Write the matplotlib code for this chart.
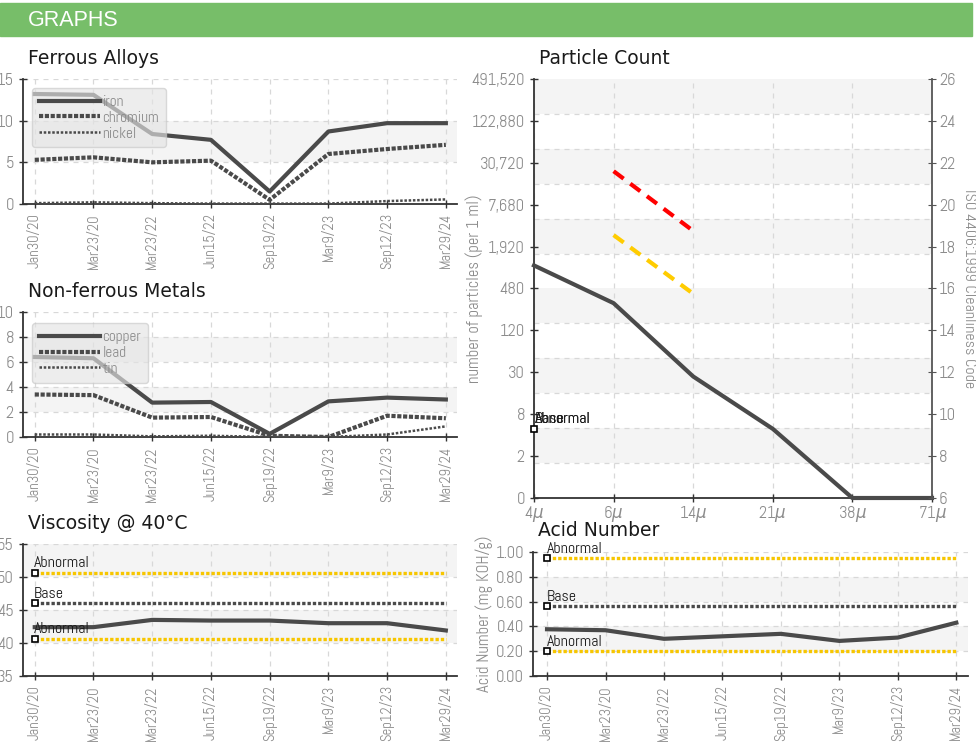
import numpy as np
import matplotlib
matplotlib.use('Agg')
import matplotlib.pyplot as plt
from matplotlib.patches import Rectangle

W, H = 976, 744
NARROW = ['Abel', 'Roboto Condensed', 'DejaVu Sans']
GREY = '#8c8c8c'
DARK = '#4a4a4a'
YELLOW = '#f7c600'

# sample dates shared by the trend charts
dates = ['Jan30/20', 'Mar23/20', 'Mar23/22', 'Jun15/22', 'Sep19/22',
         'Mar9/23', 'Sep12/23', 'Mar29/24']

# Ferrous alloys (ppm)
iron = [13.2, 13.1, 8.4, 7.7, 1.5, 8.7, 9.7, 9.7]
chromium = [5.3, 5.6, 5.0, 5.2, 0.5, 6.0, 6.6, 7.1]
nickel = [0.1, 0.2, 0.1, 0.05, 0.05, 0.05, 0.35, 0.55]

# Non-ferrous metals (ppm)
copper = [6.4, 6.3, 2.75, 2.8, 0.25, 2.85, 3.15, 3.0]
lead = [3.4, 3.35, 1.55, 1.6, 0.1, 0.0, 1.7, 1.5]
tin = [0.2, 0.2, 0.05, 0.1, 0.0, 0.0, 0.2, 0.85]

# Viscosity @ 40C
viscosity = [42.4, 42.4, 43.5, 43.4, 43.4, 43.0, 43.0, 41.9]
visc_limits = [('Abnormal', 50.6, YELLOW), ('Base', 46.0, DARK),
               ('Abnormal', 40.6, YELLOW)]

# Acid number (mg KOH/g)
acid = [0.377, 0.369, 0.30, 0.32, 0.34, 0.283, 0.31, 0.43]
acid_limits = [('Abnormal', 0.95, YELLOW), ('Base', 0.567, DARK),
               ('Abnormal', 0.20, YELLOW)]

# Particle count, plotted on the ISO 4406 code scale
sizes = ['4$\\mu$', '6$\\mu$', '14$\\mu$', '21$\\mu$', '38$\\mu$', '71$\\mu$']
pc_code = [17.1, 15.3, 11.8, 9.3, 6.0, 6.0]
pc_red = [21.6, 18.75]
pc_yellow = [18.55, 15.75]
pc_left_labels = ['0', '2', '8', '30', '120', '480', '1,920', '7,680',
                  '30,720', '122,880', '491,520']
pc_right_ticks = list(range(6, 27, 2))

fig = plt.figure(figsize=(W / 100, H / 100), dpi=100)


def px_axes(l, t, r, b):
    return fig.add_axes([l / W, 1 - b / H, (r - l) / W, (b - t) / H])


def style_axes(ax):
    for s in ['top', 'right']:
        ax.spines[s].set_visible(False)
    for s in ['left', 'bottom']:
        ax.spines[s].set_color('#333333')
        ax.spines[s].set_linewidth(1.3)
    ax.tick_params(direction='inout', length=6, width=1, color='#333333',
                   labelcolor=GREY, labelsize=12)
    ax.tick_params(axis='x', labelsize=10.5)
    for lab in ax.get_xticklabels() + ax.get_yticklabels():
        lab.set_family(NARROW)
    ax.grid(True, ls=(0, (4, 4)), color='#d8d8d8', lw=0.9)
    ax.set_axisbelow(True)


def bands(ax, ticks):
    for i in range(1, len(ticks) - 1, 2):
        ax.axhspan(ticks[i], ticks[i + 1], color='#f4f4f4', zorder=0, lw=0)


def trend_axes(l, t, r, b, title, yticks, lpad, rpad, title_y):
    ax = px_axes(l, t, r, b)
    x = np.arange(len(dates))
    ax.set_xlim(-lpad, len(dates) - 1 + rpad)
    ax.set_ylim(yticks[0], yticks[-1])
    ax.set_xticks(x)
    ax.set_xticklabels(dates, rotation=90)
    ax.set_yticks(yticks)
    bands(ax, yticks)
    style_axes(ax)
    fig.text((l + 5) / W, 1 - title_y / H, title, fontsize=13.5,
             color='#1a1a1a', va='baseline')
    return ax, x


def metal_legend(ax, anchor):
    leg = ax.legend(loc='upper left', bbox_to_anchor=anchor, borderaxespad=0,
                    handlelength=4.0, labelspacing=0.12, borderpad=0.45,
                    handletextpad=0.15, fancybox=True, framealpha=0.65,
                    facecolor='#e4e4e4', edgecolor='#c8c8c8',
                    prop={'family': NARROW, 'size': 11})
    for txt in leg.get_texts():
        txt.set_color(GREY)


def limit_lines(ax, x, limits, label_dy):
    for name, val, col in limits:
        ax.plot(x, [val] * len(x), color=col, lw=2.4, ls=(0, (1, 0.6)),
                zorder=3)
        ax.plot([x[0]], [val], marker='s', ms=5, mfc='white', mec='black',
                mew=1.2, zorder=5, clip_on=False)
        ax.text(x[0] - 0.01, val + label_dy, name, fontsize=11.5,
                family=NARROW, color='#1a1a1a', va='bottom', ha='left',
                zorder=6)


# header bar
fig.patches.append(Rectangle((0, 1 - 36 / H), 972 / W, 33 / H,
                             transform=fig.transFigure, color='#77be69'))
fig.text(28 / W, 1 - 20 / H, 'GRAPHS', color='white', fontsize=15.5,
         family=['Liberation Sans', 'DejaVu Sans'], va='center')

# Ferrous alloys
ax, x = trend_axes(23, 79, 457, 204, 'Ferrous Alloys', [0, 5, 10, 15],
                   0.2, 0.19, 64)
ax.plot(x, iron, color=DARK, lw=3, label='iron', zorder=4)
ax.plot(x, chromium, color=DARK, lw=3, ls=(0, (1, 0.4)), label='chromium',
        zorder=4)
ax.plot(x, nickel, color=DARK, lw=1.8, ls=(0, (1, 0.7)), label='nickel',
        zorder=4)
metal_legend(ax, (0.021, 0.928))

# Non-ferrous metals
ax, x = trend_axes(23, 312, 457, 437, 'Non-ferrous Metals',
                   [0, 2, 4, 6, 8, 10], 0.2, 0.19, 297)
ax.plot(x, copper, color=DARK, lw=3, label='copper', zorder=4)
ax.plot(x, lead, color=DARK, lw=3, ls=(0, (1, 0.4)), label='lead', zorder=4)
ax.plot(x, tin, color=DARK, lw=1.8, ls=(0, (1, 0.7)), label='tin', zorder=4)
metal_legend(ax, (0.021, 0.91))

# Viscosity
ax, x = trend_axes(23, 544, 457, 676, 'Viscosity @ 40\u00b0C',
                   [35, 40, 45, 50, 55], 0.2, 0.19, 529)
ax.plot(x, viscosity, color=DARK, lw=3, zorder=4)
limit_lines(ax, x, visc_limits, 0.4)

# Acid number
ax, x = trend_axes(533, 552, 968, 676, 'Acid Number',
                   [0, 0.2, 0.4, 0.6, 0.8, 1.0], 0.24, 0.2, 536)
ax.set_yticklabels(['%.2f' % v for v in [0, 0.2, 0.4, 0.6, 0.8, 1.0]],
                   family=NARROW)
ax.set_ylabel('Acid Number (mg KOH/g)', color=GREY, fontsize=12,
              family=NARROW)
ax.yaxis.set_label_coords(-0.092, 0.5)
ax.plot(x, acid, color=DARK, lw=3, zorder=4)
limit_lines(ax, x, acid_limits, 0.015)

# Particle count
ax = px_axes(534, 79, 932, 498)
xs = np.arange(len(sizes))
ax.set_xlim(0, len(sizes) - 1)
ax.set_ylim(6, 26)
ax.set_xticks(xs)
ax.set_xticklabels(sizes)
ax.set_yticks(pc_right_ticks)
ax.set_yticklabels(pc_left_labels)
band_edges = np.linspace(6, 26, 13)
for i in range(1, 12, 2):
    ax.axhspan(band_edges[i], band_edges[i + 1], color='#f4f4f4', zorder=0,
               lw=0)
style_axes(ax)
ax.tick_params(axis='x', labelsize=12, pad=1)
ax.grid(False, axis='y')
ax.set_yticks(band_edges, minor=True)
ax.tick_params(axis='y', which='minor', length=0)
ax.grid(True, axis='y', which='minor', ls=(0, (4, 4)), color='#d8d8d8',
        lw=0.9)
ax.set_ylabel('number of particles (per 1 ml)', color=GREY, fontsize=12,
              family=NARROW)
ax.yaxis.set_label_coords(-0.128, 0.5)
ax.plot(xs, pc_code, color=DARK, lw=3, zorder=4, clip_on=False)
ax.plot(xs[1:3], pc_red, color='#ff0000', lw=3, ls=(0, (3, 2)), zorder=4)
ax.plot(xs[1:3], pc_yellow, color='#ffcc00', lw=3, ls=(0, (3, 2)),
        zorder=4)
ax.plot([0], [9.3], marker='s', ms=5, mfc='white', mec='black', mew=1.2,
        zorder=5, clip_on=False)
for name in ['Abnormal', 'Base', 'Abnormal']:
    ax.text(0.005, 9.45, name, fontsize=11.5, family=NARROW,
            color='#1a1a1a', va='bottom', ha='left', zorder=6)
fig.text(539 / W, 1 - 64 / H, 'Particle Count', fontsize=13.5,
         color='#1a1a1a', va='baseline')

ax2 = ax.twinx()
ax2.set_ylim(6, 26)
ax2.set_yticks(pc_right_ticks)
for s in ['top', 'left', 'bottom']:
    ax2.spines[s].set_visible(False)
ax2.spines['right'].set_color('#555555')
ax2.spines['right'].set_linewidth(1.3)
ax2.tick_params(direction='inout', length=6, color='#555555',
                labelcolor=GREY, labelsize=12, pad=2)
for lab in ax2.get_yticklabels():
    lab.set_family(NARROW)
ax2.set_ylabel('ISO 4406:1999 Cleanliness Code', color=GREY, fontsize=11.5,
               family=NARROW, rotation=270, va='center')
ax2.yaxis.set_label_coords(1.093, 0.5)

fig.savefig('out.png', dpi=100)
